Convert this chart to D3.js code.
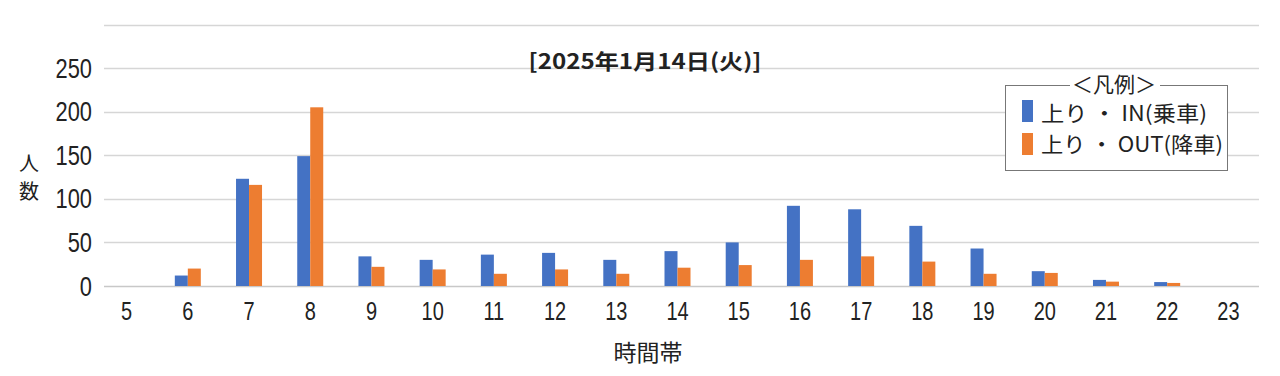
<!DOCTYPE html>
<html><head><meta charset="utf-8">
<script src="https://cdn.jsdelivr.net/npm/d3@7/dist/d3.min.js"></script>
<style>
html,body{margin:0;padding:0;background:#fff;}
svg{display:block;}
</style></head>
<body>
<svg id="chart" width="1280" height="376"></svg>
<script>
const hours = ["5","6","7","8","9","10","11","12","13","14","15","16","17","18","19","20","21","22","23"];
const inValues  = [0,12,123,149,34,30,36,38,30,40,50,92,88,69,43,17,7,4.5,0];
const outValues = [0,20,116,205,22,19,14,19,14,21,24,30,34,28,14,15,5,3.5,0];
const yTicks = [0,50,100,150,200,250,300];
const seriesNames = ["上り・IN(乗車)","上り・OUT(降車)"];
const colors = ["#4472C4","#ED7D31"];
const titleText = "[2025年1月14日(火)]";

const svg = d3.select("#chart");
const numFont = "'Liberation Sans Narrow','Liberation Sans',sans-serif";
const jpFont = "'Noto Sans CJK JP','Noto Sans',sans-serif";

const x = d3.scaleBand().domain(hours).range([96,1259]);
const y = d3.scaleLinear().domain([0,300]).range([286,24.5]);
const sub = d3.scaleBand().domain([0,1]).range([-13,13]);

// gridlines
svg.append("g").selectAll("line").data(yTicks).join("line")
  .attr("x1",104).attr("x2",1259)
  .attr("y1",d=>Math.round(y(d))+0.5).attr("y2",d=>Math.round(y(d))+0.5)
  .attr("stroke",d=>d===0?"#c8c8c8":"#d6d6d6").attr("stroke-width",1.5);

// y tick labels (no 300)
svg.append("g").selectAll("text").data(yTicks.filter(d=>d<300)).join("text")
  .attr("transform",d=>`translate(92,${y(d)+9.5}) scale(0.78,1)`)
  .attr("text-anchor","end")
  .attr("font-family",numFont).attr("font-size",28).attr("fill","#222")
  .text(d=>d);

// bars
const data = hours.map((h,i)=>({h, v:[inValues[i],outValues[i]]}));
const g = svg.append("g");
data.forEach(d=>{
  d.v.forEach((v,j)=>{
    if(v<=0) return;
    g.append("rect")
      .attr("x",x(d.h)+x.bandwidth()/2+sub(j))
      .attr("width",sub.bandwidth())
      .attr("y",y(v)).attr("height",y(0)-y(v))
      .attr("fill",colors[j]);
  });
});

// x tick labels
svg.append("g").selectAll("text").data(hours).join("text")
  .attr("transform",d=>`translate(${x(d)+x.bandwidth()/2},320) scale(0.8,1)`)
  .attr("text-anchor","middle")
  .attr("font-family",numFont).attr("font-size",25).attr("fill","#222")
  .text(d=>d);

// axis titles
svg.append("text").attr("x",648).attr("y",361).attr("text-anchor","middle")
  .attr("font-family",jpFont).attr("font-size",23).attr("fill","#222").text("時間帯");
svg.append("text").attr("x",29).attr("y",171).attr("text-anchor","middle")
  .attr("font-family",jpFont).attr("font-size",20).attr("fill","#222").text("人");
svg.append("text").attr("x",29).attr("y",199).attr("text-anchor","middle")
  .attr("font-family",jpFont).attr("font-size",20).attr("fill","#222").text("数");

// title
svg.append("text").attr("x",645).attr("y",69).attr("text-anchor","middle")
  .attr("font-family",jpFont).attr("font-weight","bold").attr("font-size",21).attr("fill","#222")
  .attr("textLength",233).attr("lengthAdjust","spacingAndGlyphs")
  .text(titleText);

// legend
const lg = svg.append("g");
lg.append("rect").attr("x",1005.5).attr("y",85.5).attr("width",222).attr("height",85)
  .attr("fill","#fff").attr("stroke","#777").attr("stroke-width",1);
lg.append("rect").attr("x",1070).attr("y",76).attr("width",90).attr("height",18).attr("fill","#fff");
lg.append("text").attr("x",1114).attr("y",92).attr("text-anchor","middle")
  .attr("font-family",jpFont).attr("font-size",21).attr("fill","#222").text("＜凡例＞");
seriesNames.forEach((n,i)=>{
  lg.append("rect").attr("x",1022).attr("y",100+i*33).attr("width",11).attr("height",22)
    .attr("fill",colors[i]);
  lg.append("text").attr("x",1041).attr("y",121+i*31)
    .attr("font-family",jpFont).attr("font-size",21).attr("fill","#222")
    .attr("textLength",i===0?166:182).attr("lengthAdjust","spacingAndGlyphs")
    .text(n.replace("・"," ・ "));
});
</script>
</body></html>
